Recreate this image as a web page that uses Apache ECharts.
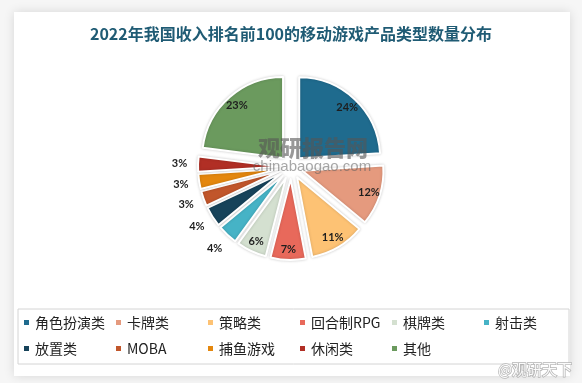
<!DOCTYPE html>
<html><head><meta charset="utf-8">
<script src="https://cdn.jsdelivr.net/npm/echarts@6/dist/echarts.min.js"></script>
<style>html,body{margin:0;padding:0;background:#f6f6f6;} #c{width:582px;height:383px;}</style>
</head><body><div id="c"></div>
<script>
const titleText = '2022年我国收入排名前100的移动游戏产品类型数量分布';
const categories = ['角色扮演类','卡牌类','策略类','回合制RPG','棋牌类','射击类','放置类','MOBA','捕鱼游戏','休闲类','其他'];
const shares = [24,12,11,7,6,4,4,3,3,3,23];
const colors = ['#1F6B8E','#E59A7E','#FDC274','#E8695B','#D4E0D0','#46B3C6','#17435A','#C1562B','#E4870E','#B12F25','#6B9A5E'];
const insideMin = 5;

const CENTER = [291, 167];
const OFFSET = 12;
const labelStyle = {color:'#1e1e1e', fontSize:11, fontWeight:'bold', fontFamily:'Lato, "Liberation Sans", sans-serif', formatter:'{c}%'};

function labelSeries(radius, showFn){
  return {
    type:'pie', silent:true, radius:radius, center:CENTER, startAngle:90, clockwise:true,
    selectedMode:'multiple', selectedOffset:OFFSET, legendHoverLink:false, z:5,
    avoidLabelOverlap:false,
    itemStyle:{color:'rgba(0,0,0,0)', borderWidth:0},
    select:{itemStyle:{color:'rgba(0,0,0,0)', borderWidth:0}},
    label:Object.assign({position:'inside'}, labelStyle),
    labelLine:{show:false},
    emphasis:{disabled:true},
    data: shares.map((v,i)=>({value:v, name:categories[i], selected:true, label:{show:showFn(v)}}))
  };
}

const chart = echarts.init(document.getElementById('c'));
chart.setOption({
  animation:false,
  color: colors,
  graphic:[
    {type:'rect', z:0, shape:{x:14,y:12,width:556,height:364}, style:{fill:'#fff', shadowBlur:10, shadowColor:'rgba(0,0,0,0.13)'}},
    {type:'text', z:100, silent:true, x:313, y:148, style:{text:'观研报告网', fontSize:22, fontWeight:900, fontFamily:'"Noto Sans CJK SC", sans-serif', fill:'rgba(85,85,85,0.6)', align:'center', verticalAlign:'middle'}},
    {type:'text', z:100, silent:true, x:312, y:167, style:{text:'chinabaogao.com', fontSize:15, fontFamily:'"Liberation Sans", sans-serif', fill:'rgba(95,95,95,0.55)', align:'center', verticalAlign:'middle'}},
    {type:'text', z:100, silent:true, x:535, y:369, style:{text:'@观研天下', fontSize:15, fontFamily:'"Noto Sans CJK SC", sans-serif', fill:'rgba(255,255,255,0.95)', stroke:'#b5b5b5', lineWidth:1.5, align:'center', verticalAlign:'middle'}}
  ],
  title:{
    text:titleText, left:'center', top:25, padding:0,
    textStyle:{fontSize:16, fontWeight:'bold', color:'#1F5B74', fontFamily:'"Noto Sans CJK SC", sans-serif', lineHeight:18}
  },
  legend:{
    data:categories, selectedMode:false, left:18, top:309, width:560,
    orient:'horizontal', icon:'rect', itemWidth:7, itemHeight:7, itemGap:9,
    padding:[5,4,7,4], borderColor:'#d4d4d4', borderWidth:1,
    textStyle:{fontSize:14, color:'#222', width:70, lineHeight:17, fontFamily:'"Noto Sans CJK SC", sans-serif'}
  },
  series:[
    {
      type:'pie', radius:[0,81], center:CENTER, startAngle:90, clockwise:true,
      selectedMode:'multiple', selectedOffset:OFFSET, z:2,
      itemStyle:{borderColor:'#fff', borderWidth:2, shadowBlur:3, shadowColor:'rgba(0,0,0,0.18)'},
      select:{itemStyle:{borderColor:'#fff', borderWidth:2}},
      emphasis:{scale:false},
      label:{show:false}, labelLine:{show:false},
      data: shares.map((v,i)=>({value:v, name:categories[i], selected:true}))
    },
    labelSeries([53,81], v=>v>=insideMin),
    labelSeries([82,111], v=>v<insideMin)
  ]
});
</script>
</body></html>
